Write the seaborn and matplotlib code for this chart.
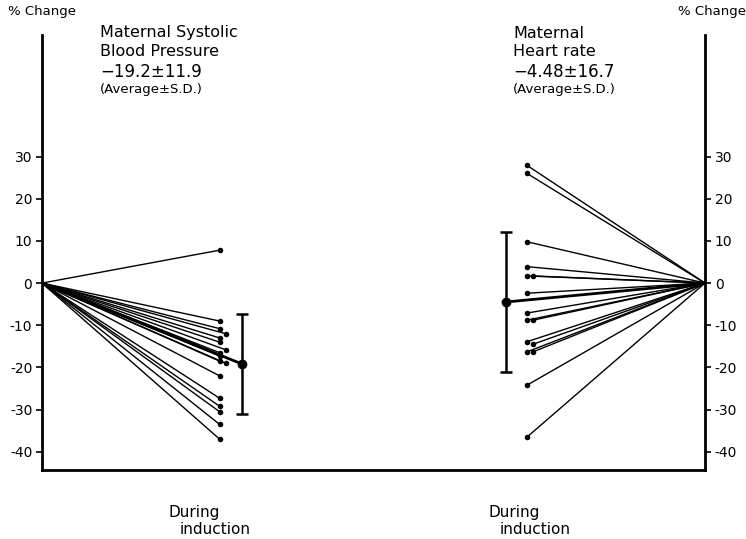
import numpy as np
import pandas as pd
import matplotlib
matplotlib.use("Agg")
import matplotlib.pyplot as plt
import seaborn as sns

# ---------------- data ----------------
sbp_change = [7.8, -9.0, -10.8, -12.0, -13.0, -14.0, -15.8, -16.5, -17.3,
              -18.5, -19.0, -22.0, -27.3, -29.2, -30.5, -33.5, -37.0]
sbp_shift = [0, 0, 0, 1, 0, 0, 1, 0, 0, 0, 1, 0, 0, 0, 0, 0, 0]
hr_change = [27.9, 26.0, 9.8, 3.9, 1.7, 1.7, -2.4, -7.1, -8.8, -8.8,
             -13.9, -14.5, -16.3, -16.3, -24.2, -36.5]
hr_shift = [0, 0, 0, 0, 0, 1, 0, 0, 0, 1, 0, 1, 0, 1, 0, 0]
sbp_mean, sbp_sd = -19.2, 11.9
hr_mean, hr_sd = -4.48, 16.7
y_ticks = [30, 20, 10, 0, -10, -20, -30, -40]

# ---------------- layout constants ----------------
W, H = 746, 539
X_LEFT0, X_SBP, X_SBP_BAR = 0.0, 0.268, 0.302
X_HR_BAR, X_HR, X_RIGHT0 = 0.700, 0.7315, 1.0
SHIFT = 0.009

sns.set_theme(style="white")
plt.rcParams['font.family'] = ['DejaVu Sans']
plt.rcParams['axes.unicode_minus'] = False

rows = []
for i, (v, s) in enumerate(zip(sbp_change, sbp_shift)):
    rows.append(dict(uid=f"s{i}", x=X_LEFT0, pct=0.0))
    rows.append(dict(uid=f"s{i}", x=X_SBP + s * SHIFT, pct=v))
for i, (v, s) in enumerate(zip(hr_change, hr_shift)):
    rows.append(dict(uid=f"h{i}", x=X_HR + s * SHIFT, pct=v))
    rows.append(dict(uid=f"h{i}", x=X_RIGHT0, pct=0.0))
lines = pd.DataFrame(rows)
ends = lines[~lines.x.isin([X_LEFT0, X_RIGHT0])]

means = pd.DataFrame([
    dict(uid="ms", x=X_LEFT0, pct=0.0), dict(uid="ms", x=X_SBP_BAR, pct=sbp_mean),
    dict(uid="mh", x=X_HR_BAR, pct=hr_mean), dict(uid="mh", x=X_RIGHT0, pct=0.0),
])

fig = plt.figure(figsize=(W / 100, H / 100), dpi=100)
ax = fig.add_axes([42 / W, 1 - 470 / H, (705 - 42) / W, (470 - 35) / H])

sns.lineplot(data=lines, x="x", y="pct", units="uid", estimator=None,
             sort=False, color="black", lw=1.0, ax=ax)
sns.lineplot(data=means, x="x", y="pct", units="uid", estimator=None,
             sort=False, color="black", lw=2.0, ax=ax)
sns.scatterplot(data=ends, x="x", y="pct", color="black", s=16,
                edgecolor="black", linewidth=0, ax=ax, zorder=5)
ax.errorbar([X_SBP_BAR, X_HR_BAR], [sbp_mean, hr_mean], yerr=[sbp_sd, hr_sd],
            fmt="o", color="black", ms=6, elinewidth=1.8, capsize=4,
            capthick=1.8, zorder=6)

ax.set_xlim(0, 1)
ax.set_ylim(-44.3, 58.8)
ax.set_yticks(y_ticks)
ax.set_yticklabels([str(t) for t in y_ticks])
ax.set_xticks([])
ax.set_xlabel("")
ax.set_ylabel("")
ax.yaxis.set_ticks_position("both")
ax.tick_params(axis="y", which="both", direction="out", length=4, width=1.2,
               color="black", labelleft=True, labelright=True,
               labelsize=10, pad=3, labelcolor="black")
for side in ["left", "right", "bottom"]:
    ax.spines[side].set_visible(True)
    ax.spines[side].set_color("black")
    ax.spines[side].set_linewidth(2.0)
ax.spines["top"].set_visible(False)


def ftext(x, y, s, size=11.5, **kw):
    fig.text(x / W, 1 - y / H, s, fontsize=size, va="center", ha="left",
             color="black", **kw)


ftext(8, 12, "% Change", size=9.5)
ftext(678, 12, "% Change", size=9.5)

ftext(100, 33, "Maternal Systolic")
ftext(100, 52, "Blood Pressure")
ftext(100, 72, "\u221219.2\u00b111.9", size=12)
ftext(100, 90, "(Average\u00b1S.D.)", size=9.5)

ftext(513, 33, "Maternal")
ftext(513, 52, "Heart rate")
ftext(513, 72, "\u22124.48\u00b116.7", size=12)
ftext(513, 90, "(Average\u00b1S.D.)", size=9.5)

ftext(168, 512, "During", size=11)
ftext(180, 530, "induction", size=11)
ftext(488, 512, "During", size=11)
ftext(500, 530, "induction", size=11)

fig.savefig("out.png", dpi=100)
